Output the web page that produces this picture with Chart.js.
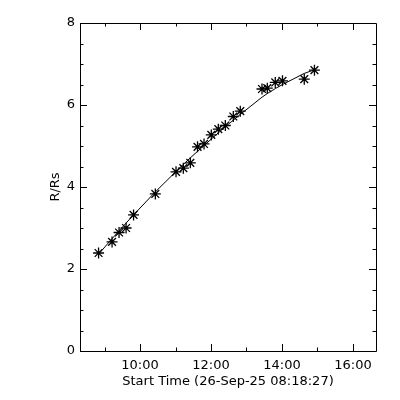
<!DOCTYPE html>
<html>
<head>
<meta charset="utf-8">
<script src="https://cdn.jsdelivr.net/npm/chart.js@4.4.1/dist/chart.umd.min.js"></script>
<style>
  html, body { margin: 0; padding: 0; background: #fff; }
  #wrap { width: 400px; height: 400px; }
</style>
</head>
<body>
<div id="wrap"><canvas id="c" width="400" height="400"></canvas></div>
<script>
// Observation times (decimal hours of 26-Sep-25)
const times = [8.831, 9.211, 9.408, 9.606, 9.817, 10.431, 11.014, 11.220, 11.417, 11.620, 11.803,
               12.008, 12.206, 12.403, 12.628, 12.825, 13.437, 13.586, 13.811, 14.014, 14.628, 14.915];
// Measured heights R/Rs
const heights = [2.39, 2.66, 2.89, 3.00, 3.32, 3.83, 4.37, 4.46, 4.59, 4.98, 5.05,
                 5.27, 5.41, 5.50, 5.72, 5.85, 6.39, 6.41, 6.55, 6.59, 6.63, 6.85];
// Fitted curve values at the same times
const fitHeights = [2.36, 2.74, 2.93, 3.12, 3.32, 3.88, 4.38, 4.55, 4.71, 4.87, 5.01,
                    5.17, 5.32, 5.47, 5.63, 5.77, 6.19, 6.28, 6.40, 6.50, 6.77, 6.86];
const xMajorTicks = [10, 12, 14, 16];
const yMajorTicks = [0, 2, 4, 6, 8];
const xMinorStep = 1;
const yMinorStep = 0.5;
const xMin = 8.3075;   // 08:18:27
const xMax = 16.65;
const xTitle = 'Start Time (26-Sep-25 08:18:27)';
const yTitle = 'R/Rs';

const FONT = { family: 'DejaVu Sans', size: 13 };

const framePlugin = {
  id: 'frame',
  afterDraw(chart) {
    const { ctx, chartArea: a, scales: { x, y } } = chart;
    ctx.save();
    ctx.strokeStyle = '#000';
    ctx.lineWidth = 1;
    ctx.beginPath();
    ctx.rect(Math.round(a.left) + 0.5, Math.round(a.top) + 0.5,
             Math.round(a.right - a.left), Math.round(a.bottom - a.top));
    ctx.stroke();
    const MAJ = 7, MIN = 3.5;
    ctx.beginPath();
    // x ticks (bottom and top, inward)
    const xStart = Math.ceil(xMin / xMinorStep) * xMinorStep;
    for (let v = xStart; v <= xMax + 1e-9; v += xMinorStep) {
      const len = xMajorTicks.includes(v) ? MAJ : MIN;
      const px = Math.round(x.getPixelForValue(v)) + 0.5;
      ctx.moveTo(px, a.bottom); ctx.lineTo(px, a.bottom - len);
      ctx.moveTo(px, a.top); ctx.lineTo(px, a.top + len);
    }
    // y ticks (left and right, inward)
    for (let v = 0; v <= 8 + 1e-9; v += yMinorStep) {
      const len = yMajorTicks.includes(v) ? MAJ : MIN;
      const py = Math.round(y.getPixelForValue(v)) + 0.5;
      ctx.moveTo(a.left, py); ctx.lineTo(a.left + len, py);
      ctx.moveTo(a.right, py); ctx.lineTo(a.right - len, py);
    }
    ctx.stroke();
    ctx.restore();
  }
};

const pts = times.map((t, i) => ({ x: t, y: heights[i] }));
const fit = times.map((t, i) => ({ x: t, y: fitHeights[i] }));

new Chart(document.getElementById('c'), {
  type: 'scatter',
  data: {
    datasets: [
      {
        label: 'fit', data: fit, showLine: true, borderColor: '#000', borderWidth: 1,
        pointRadius: 0, fill: false, tension: 0
      },
      {
        label: 'data', data: pts, pointStyle: 'star', pointRadius: 5.5,
        borderColor: '#000', backgroundColor: '#000', pointBorderWidth: 1.3
      }
    ]
  },
  options: {
    responsive: false,
    animation: false,
    devicePixelRatio: 1,
    layout: { padding: { top: 23, right: 24, left: 0, bottom: 0 } },
    plugins: { legend: { display: false }, tooltip: { enabled: false } },
    scales: {
      x: {
        type: 'linear', min: xMin, max: xMax,
        grid: { display: false, drawTicks: false },
        border: { display: false },
        afterBuildTicks: (s) => { s.ticks = xMajorTicks.map(v => ({ value: v })); },
        afterFit: (s) => { s.height = 49; },
        ticks: {
          color: '#000', font: FONT, padding: 7, maxRotation: 0, autoSkip: false,
          callback: (v) => String(v).padStart(2, '0') + ':00'
        },
        title: { display: true, text: xTitle, color: '#000', font: FONT, padding: { top: 0, bottom: 11 } }
      },
      y: {
        type: 'linear', min: 0, max: 8,
        grid: { display: false, drawTicks: false },
        border: { display: false },
        afterBuildTicks: (s) => { s.ticks = yMajorTicks.map(v => ({ value: v })); },
        afterFit: (s) => { s.width = 80; },
        ticks: { color: '#000', font: FONT, padding: 5, autoSkip: false },
        title: { display: true, text: yTitle, color: '#000', font: FONT, padding: { top: 48, bottom: 0 } }
      }
    }
  },
  plugins: [framePlugin]
});
</script>
</body>
</html>
